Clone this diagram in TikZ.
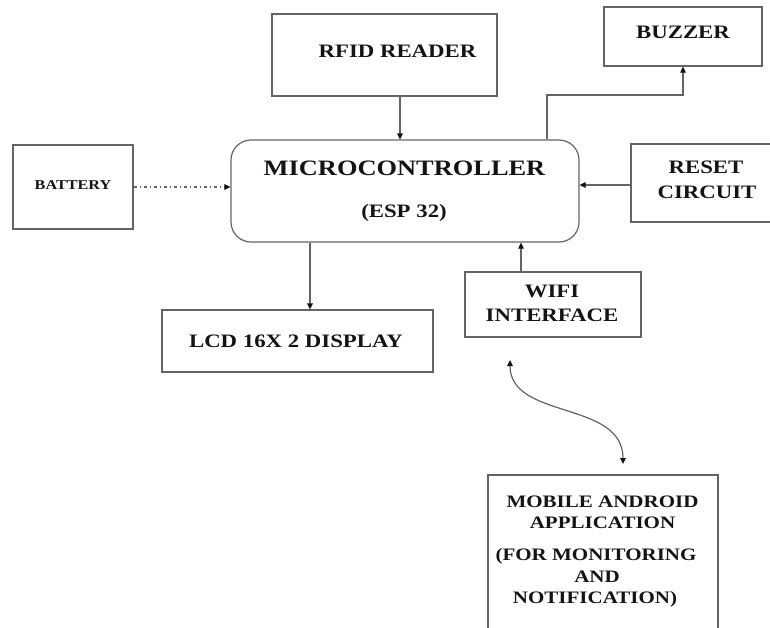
\documentclass[tikz,border=0pt]{standalone}
\usepackage{fontspec}
\newfontfamily\lbl[FakeStretch=1.2]{Liberation Serif}
\usetikzlibrary{arrows.meta}
\definecolor{ln}{RGB}{100,100,100}
\definecolor{tx}{RGB}{20,20,20}
\tikzset{
  box/.style={draw=ln, line width=1.2pt, fill=none, inner sep=0pt},
  mcubox/.style={box, rounded corners=20pt},
  t/.style={anchor=base, inner sep=0pt, text=tx, font=\lbl\bfseries},
  tip/.tip={Triangle[length=6pt,width=5.5pt,color=tx]},
  conn/.style={draw=ln, line width=1.2pt, -tip},
  dconn/.style={draw=ln, line width=1.2pt, tip-tip},
  dotconn/.style={conn, dash pattern=on 3pt off 3pt on 1pt off 3pt}
}
\begin{document}
\begin{tikzpicture}[x=1pt,y=-1pt]
\useasboundingbox[fill=white] (0,0) rectangle (770,627);
% boxes
\node[box, minimum width=120pt, minimum height=84pt] (battery) at (73,187) {};
\node[box, minimum width=225pt, minimum height=82pt] (rfid) at (384.5,55) {};
\node[box, minimum width=158pt, minimum height=59pt] (buzzer) at (683,36.5) {};
\node[box, minimum width=141pt, minimum height=78pt] (reset) at (701.5,183) {};
\node[mcubox, minimum width=348pt, minimum height=102pt] (mcu) at (405,191) {};
\node[box, minimum width=176pt, minimum height=65pt] (wifi) at (553,304.5) {};
\node[box, minimum width=271pt, minimum height=62pt] (lcd) at (297.5,341) {};
\node[box, minimum width=230pt, minimum height=175pt] (mobile) at (603,562.5) {};
% texts
\node[t, font=\lbl\bfseries\fontsize{13.5}{14}\selectfont] (batteryT) at (73,189) {BATTERY};
\node[t, font=\lbl\bfseries\fontsize{19}{20}\selectfont] (rfidT) at (397.5,57) {RFID READER};
\node[t, font=\lbl\bfseries\fontsize{19}{20}\selectfont] (buzzerT) at (683,38) {BUZZER};
\node[t, font=\lbl\bfseries\fontsize{19}{20}\selectfont] (resetT1) at (706,173) {RESET};
\node[t, font=\lbl\bfseries\fontsize{19}{20}\selectfont] (resetT2) at (707,198) {CIRCUIT};
\node[t, font=\lbl\bfseries\fontsize{22}{24}\selectfont] (mcuT1) at (404.5,175) {MICROCONTROLLER};
\node[t, font=\lbl\bfseries\fontsize{19}{20}\selectfont] (mcuT2) at (404,217) {(ESP 32)};
\node[t, font=\lbl\bfseries\fontsize{19}{20}\selectfont] (wifiT1) at (552,297) {WIFI};
\node[t, font=\lbl\bfseries\fontsize{19}{20}\selectfont] (wifiT2) at (552,321) {INTERFACE};
\node[t, font=\lbl\bfseries\fontsize{19}{20}\selectfont] (lcdT) at (296,347) {LCD 16X 2 DISPLAY};
\node[t, font=\lbl\bfseries\fontsize{17.5}{18}\selectfont] (mobT1) at (602.5,507) {MOBILE ANDROID};
\node[t, font=\lbl\bfseries\fontsize{17.5}{18}\selectfont] (mobT2) at (602.5,528) {APPLICATION};
\node[t, font=\lbl\bfseries\fontsize{17.5}{18}\selectfont] (mobT3) at (596,560) {(FOR MONITORING};
\node[t, font=\lbl\bfseries\fontsize{17.5}{18}\selectfont] (mobT4) at (597,582) {AND};
\node[t, font=\lbl\bfseries\fontsize{17.5}{18}\selectfont] (mobT5) at (595,603) {NOTIFICATION)};
% connectors
\coordinate (rx) at (400,0);
\draw[conn] (rx |- rfid.south) -- (rx |- mcu.north);
\coordinate (bz) at (547,95);
\draw[conn] (bz |- mcu.north) -- (bz) -| (buzzer.south);
\coordinate (ry) at (0,185);
\draw[conn] (reset.west |- ry) -- (mcu.east |- ry);
\draw[dotconn] (battery.east) -- (battery.east -| mcu.west);
\coordinate (lx) at (310,0);
\draw[conn] (lx |- mcu.south) -- (lx |- lcd.north);
\coordinate (wx) at (521,0);
\draw[conn] (wx |- wifi.north) -- (wx |- mcu.south);
\coordinate (c1) at (510,360);
\coordinate (c2) at (623,464);
\draw[dconn] (c1) .. controls (510,420) and (623,400) .. (c2);
\end{tikzpicture}
\end{document}
